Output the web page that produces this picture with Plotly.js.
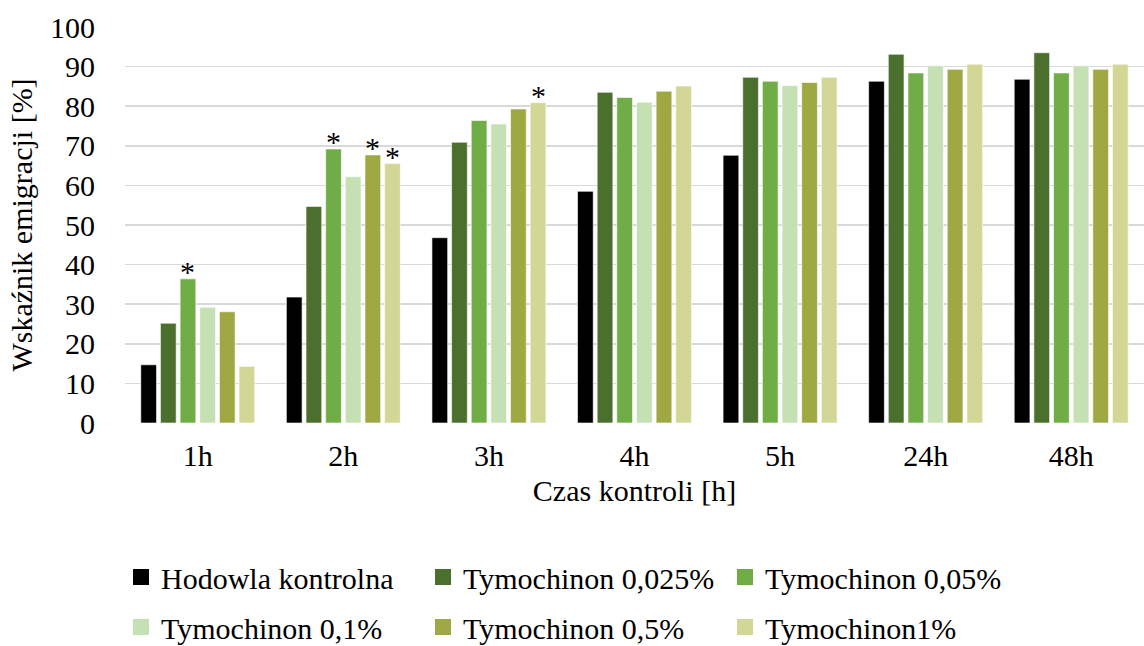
<!DOCTYPE html>
<html><head><meta charset="utf-8">
<script src="https://cdn.plot.ly/plotly-3.0.1.min.js"></script>
<style>html,body{margin:0;padding:0;background:#fff}#chart{width:1144px;height:646px}</style>
</head><body><div id="chart"></div>
<script>
const categories = ['1h','2h','3h','4h','5h','24h','48h'];
const seriesNames = ['Hodowla kontrolna','Tymochinon 0,025%','Tymochinon 0,05%','Tymochinon 0,1%','Tymochinon 0,5%','Tymochinon1%'];
const hodowla   = [14.7, 31.8, 46.8, 58.5, 67.6, 86.3, 86.8];
const tym0025   = [25.2, 54.7, 70.9, 83.5, 87.3, 93.1, 93.5];
const tym005    = [36.4, 69.2, 76.4, 82.2, 86.3, 88.4, 88.4];
const tym01     = [29.2, 62.2, 75.5, 81.0, 85.2, 90.2, 90.2];
const tym05     = [28.1, 67.7, 79.3, 83.8, 86.0, 89.3, 89.3];
const tym1      = [14.3, 65.5, 80.9, 85.1, 87.3, 90.6, 90.6];
// significance markers (*) per series
const sig0   = ['', '', '', '', '', '', ''];
const sig1   = ['', '', '', '', '', '', ''];
const sig2   = ['*', '*', '', '', '', '', ''];
const sig3   = ['', '', '', '', '', '', ''];
const sig4   = ['', '*', '', '', '', '', ''];
const sig5   = ['', '*', '*', '', '', '', ''];
const yTicks = [0,10,20,30,40,50,60,70,80,90,100];

const values = [hodowla, tym0025, tym005, tym01, tym05, tym1];
const sigs = [sig0, sig1, sig2, sig3, sig4, sig5];
const colors = ['#000000','#4B6F2D','#70AD47','#C5E0B3','#A0A843','#D3D796'];
const FONT = '"Liberation Serif", "Times New Roman", serif';
const FS = 30;

const traces = values.map((v,i) => ({
  type:'bar', name: seriesNames[i], x: categories, y: v,
  marker:{color:colors[i], line:{color:'rgba(255,255,255,0.6)', width:1}},
  showlegend:false, hoverinfo:'y'
}));
// legend entries (square symbols)
values.forEach((v,i) => traces.push({
  type:'scatter', mode:'markers', name: seriesNames[i], x:[null], y:[null],
  marker:{symbol:'square', size:16, color:colors[i]},
  legend: i < 3 ? 'legend' : 'legend2', showlegend:true, hoverinfo:'skip'
}));

const legendCommon = {orientation:'h', xref:'container', yref:'container', x:121/1144, xanchor:'left',
  yanchor:'middle', font:{family:FONT, size:FS, color:'#000'}, entrywidth:257, entrywidthmode:'pixels',
  traceorder:'normal', bgcolor:'rgba(0,0,0,0)'};

const layout = {
  width:1144, height:646,
  margin:{l:125, r:0, t:27, b:223},
  paper_bgcolor:'#fff', plot_bgcolor:'#fff',
  font:{family:FONT, size:FS, color:'#000'},
  barmode:'group', bargap:0.19, bargroupgap:0.2,
  showlegend:true,
  legend: Object.assign({}, legendCommon, {y:(646-577)/646}),
  legend2: Object.assign({}, legendCommon, {y:(646-627)/646}),
  xaxis:{type:'category', showline:false, ticks:'', tickfont:{family:FONT, size:FS},
         ticklabelstandoff:12, automargin:false,
         title:{text:'Czas kontroli [h]', font:{family:FONT, size:FS}, standoff:8}},
  yaxis:{range:[0,100], tickvals:yTicks, showgrid:true, gridcolor:'#d9d9d9', gridwidth:1.5,
         zeroline:false, showline:false, ticks:'', tickfont:{family:FONT, size:FS},
         ticklabelstandoff:29,
         title:{text:'Wskaźnik emigracji [%]', font:{family:FONT, size:FS}, standoff:8}}
};
const gd = document.getElementById('chart');
Plotly.newPlot(gd, traces, layout, {displayModeBar:false, staticPlot:true}).then(() => {
  // significance asterisks placed at the bar centres computed by Plotly
  const annotations = [];
  sigs.forEach((s, i) => {
    const cd = gd.calcdata[i];
    s.forEach((t, j) => {
      if (!t) return;
      annotations.push({xref:'x', yref:'y', x: cd[j].x, y: values[i][j], text: t,
        showarrow:false, yanchor:'bottom', xanchor:'center', yshift:-11,
        font:{family:FONT, size:30, color:'#000'}});
    });
  });
  return Plotly.relayout(gd, {annotations});
});
</script></body></html>
